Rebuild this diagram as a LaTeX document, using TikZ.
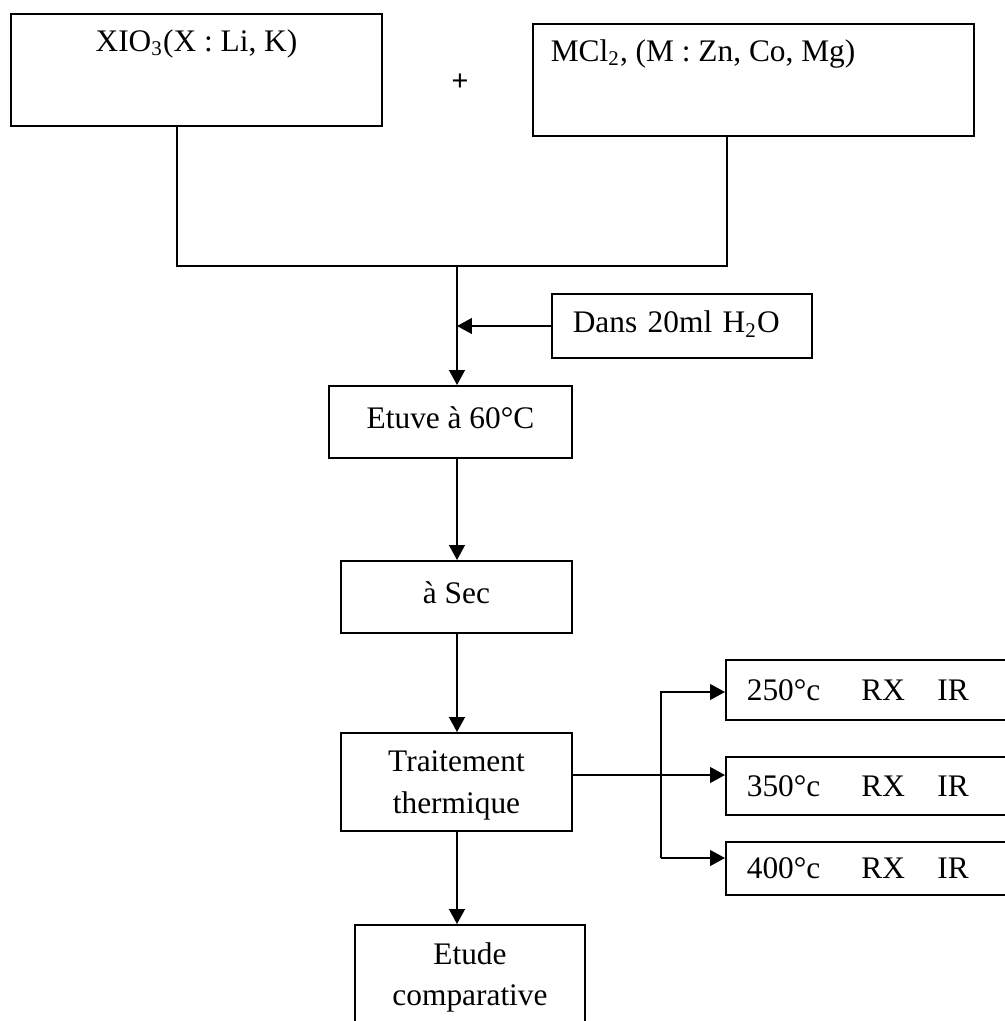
\documentclass[tikz,border=0pt]{standalone}
\usepackage{fontspec}
\setmainfont{Liberation Serif}
\setsansfont{Liberation Sans}
\usetikzlibrary{arrows.meta}
\newcommand\pxu{0.01344cm}
\tikzset{
  procbox/.style={draw, line width=0.75pt, align=center},
  sidebox/.style={draw, line width=0.75pt, anchor=west, align=left,
    inner xsep=0.28cm},
  flow/.style={line width=0.75pt},
  arr/.style={flow, -{Triangle[length=5.7pt,width=6pt]}},
}

\begin{document}
\begin{tikzpicture}[x=\pxu, y=-\pxu, font=\fontsize{12}{16}\selectfont]
  \useasboundingbox (0,0) rectangle (1005,1021);
  % reactants
  \node[procbox, minimum width=371*\pxu, minimum height=112*\pxu,
    label={[name=xiotext, anchor=north, yshift=-7*\pxu]north:XIO\textsubscript{3}(X : Li, K)}]
    (xio) at (196.5,70) {};
  \node[font=\sffamily\fontsize{11}{12}\selectfont] (plus) at (460,82) {+};
  \node[procbox, minimum width=441*\pxu, minimum height=112*\pxu,
    label={[name=mcltext, anchor=north west, xshift=9.5*\pxu, yshift=-7*\pxu]north west:MCl\textsubscript{2}, (M : Zn, Co, Mg)}]
    (mcl) at (753.5,80) {};
  % mixing
  \coordinate (ja) at (177,266);
  \coordinate (jb) at (727,266);
  \coordinate (jm) at (457,266);
  \draw[flow] (xio.south -| ja) -- (ja) -- (jb) -- (mcl.south -| jb);
  % water
  \node[sidebox, text width=2.94cm, minimum height=64*\pxu, text depth=0.3em]
    (dans) at (551,326) {Dans 20ml H\textsubscript{2}O};
  \draw[arr] (dans.west) -- (dans.west -| jm);
  % main line
  \node[procbox, minimum width=243*\pxu, minimum height=72*\pxu, text depth=0.3em]
    (etuve) at (450.5,422) {Etuve à 60°C};
  \node[procbox, minimum width=231*\pxu, minimum height=72*\pxu, text depth=0.3em]
    (sec) at (456.5,597) {à Sec};
  \node[procbox, minimum width=231*\pxu, minimum height=98*\pxu, text depth=0pt]
    (trait) at (456.5,782) {Traitement\\thermique};
  \node[procbox, minimum width=230*\pxu, minimum height=105*\pxu]
    (etude) at (470,977.5) {Etude\\comparative};
  \draw[arr] (jm) -- (etuve.north -| jm);
  \draw[arr] (etuve.south -| jm) -- (sec.north -| jm);
  \draw[arr] (sec.south -| jm) -- (trait.north -| jm);
  \draw[arr] (trait.south -| jm) -- (etude.north -| jm);
  % temperatures
  \node[sidebox, text width=3.34cm, minimum height=60*\pxu]
    (r250) at (725,690) {250°c\hspace{15.7pt}RX\hspace{12.4pt}IR};
  \node[sidebox, text width=3.34cm, minimum height=58*\pxu]
    (r350) at (725,786) {350°c\hspace{15.7pt}RX\hspace{12.4pt}IR};
  \node[sidebox, text width=3.34cm, minimum height=53*\pxu]
    (r400) at (725,868.5) {400°c\hspace{15.7pt}RX\hspace{12.4pt}IR};
  \coordinate (bt) at (661,692);
  \coordinate (bm) at (661,775);
  \coordinate (bb) at (661,858);
  \draw[arr] (trait.east |- bm) -- (r350.west |- bm);
  \draw[arr] (bb) -- (bt) -- (r250.west |- bt);
  \draw[arr] (bb) -- (r400.west |- bb);
\end{tikzpicture}
\end{document}
